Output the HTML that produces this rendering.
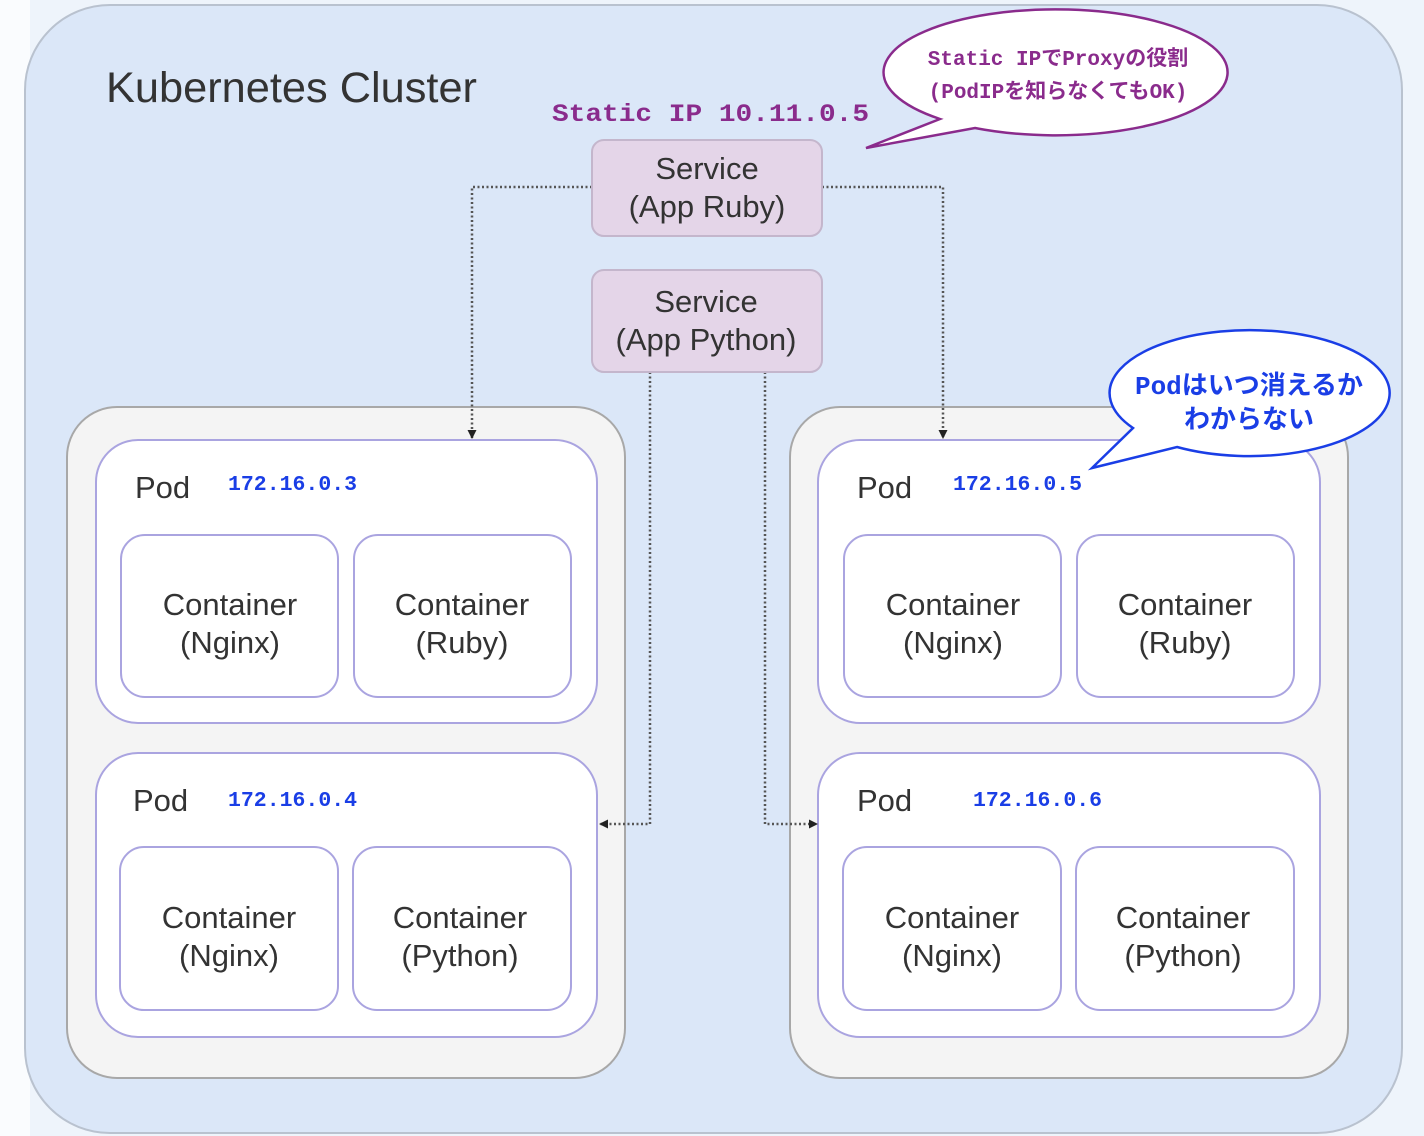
<!DOCTYPE html>
<html><head><meta charset="utf-8"><style>
html,body{margin:0;padding:0;background:#eef4fb;}
svg{display:block}
.s{font-family:"Liberation Sans","Noto Sans CJK JP",sans-serif;fill:#333;}
.m{font-family:"Liberation Mono","Noto Sans CJK JP",monospace;font-weight:bold;}
</style></head><body>
<svg width="1424" height="1136" viewBox="0 0 1424 1136" xmlns="http://www.w3.org/2000/svg">
<defs>
<marker id="a" markerWidth="9" markerHeight="9" refX="8" refY="4.5" orient="auto" markerUnits="userSpaceOnUse"><path d="M0,0 L9,4.5 L0,9 z" fill="#222"/></marker>
</defs>
<rect width="1424" height="1136" fill="#eef4fb"/>
<rect x="0" y="0" width="30" height="1136" fill="#fafcfe"/>
<rect x="25" y="5" width="1377" height="1128" rx="85" fill="#dbe7f8" stroke="#b9c2cf" stroke-width="2"/>
<text x="106" y="102" class="s" font-size="43" fill="#333" textLength="371" lengthAdjust="spacingAndGlyphs">Kubernetes Cluster</text>

<rect x="67" y="407" width="558" height="671" rx="50" fill="#f4f4f4" stroke="#a8a8a8" stroke-width="2"/>
<rect x="790" y="407" width="558" height="671" rx="50" fill="#f4f4f4" stroke="#a8a8a8" stroke-width="2"/>

<g fill="#fff" stroke="#aaa4e0" stroke-width="2">
<rect x="96" y="440" width="501" height="283" rx="42"/>
<rect x="96" y="753" width="501" height="284" rx="42"/>
<rect x="818" y="440" width="502" height="283" rx="42"/>
<rect x="818" y="753" width="502" height="284" rx="42"/>
<rect x="121" y="535" width="217" height="162" rx="24"/>
<rect x="354" y="535" width="217" height="162" rx="24"/>
<rect x="120" y="847" width="218" height="163" rx="24"/>
<rect x="353" y="847" width="218" height="163" rx="24"/>
<rect x="844" y="535" width="217" height="162" rx="24"/>
<rect x="1077" y="535" width="217" height="162" rx="24"/>
<rect x="843" y="847" width="218" height="163" rx="24"/>
<rect x="1076" y="847" width="218" height="163" rx="24"/>
</g>

<g class="s" font-size="31" fill="#333">
<text x="135" y="498">Pod</text>
<text x="133" y="811">Pod</text>
<text x="857" y="498">Pod</text>
<text x="857" y="811">Pod</text>
</g>
<g class="m" font-size="21.5" fill="#1a3ee6">
<text x="228" y="490">172.16.0.3</text>
<text x="228" y="806">172.16.0.4</text>
<text x="953" y="490">172.16.0.5</text>
<text x="973" y="806">172.16.0.6</text>
</g>

<g class="s" font-size="31" fill="#333" text-anchor="middle">
<text x="230" y="615">Container</text><text x="230" y="653">(Nginx)</text>
<text x="462" y="615">Container</text><text x="462" y="653">(Ruby)</text>
<text x="229" y="928">Container</text><text x="229" y="966">(Nginx)</text>
<text x="460" y="928">Container</text><text x="460" y="966">(Python)</text>
<text x="953" y="615">Container</text><text x="953" y="653">(Nginx)</text>
<text x="1185" y="615">Container</text><text x="1185" y="653">(Ruby)</text>
<text x="952" y="928">Container</text><text x="952" y="966">(Nginx)</text>
<text x="1183" y="928">Container</text><text x="1183" y="966">(Python)</text>
</g>

<g fill="none" stroke="#555" stroke-width="2.5" stroke-dasharray="2,2.5">
<path d="M592,187 H472 V438" marker-end="url(#a)"/>
<path d="M822,187 H943 V438" marker-end="url(#a)"/>
<path d="M650,372 V824 H600" marker-end="url(#a)"/>
<path d="M765,372 V824 H817" marker-end="url(#a)"/>
</g>

<rect x="592" y="140" width="230" height="96" rx="12" fill="#e4d5e8" stroke="#c4b6cc" stroke-width="2"/>
<rect x="592" y="270" width="230" height="102" rx="12" fill="#e4d5e8" stroke="#c4b6cc" stroke-width="2"/>
<g class="s" font-size="31" fill="#222" text-anchor="middle">
<text x="707" y="179">Service</text><text x="707" y="217">(App Ruby)</text>
<text x="706" y="312">Service</text><text x="706" y="350">(App Python)</text>
</g>

<text x="552" y="121" class="m" font-size="25" fill="#8a2b8c" textLength="317" lengthAdjust="spacingAndGlyphs">Static IP 10.11.0.5</text>

<path d="M940,119 A172,63 0 1 1 975,128 L866,148 Z" fill="#fff" stroke="#8a2b8c" stroke-width="2.5"/>
<g class="m" font-size="21" fill="#8a2b8c" text-anchor="middle">
<text x="1058" y="65">Static IP<tspan font-family="Noto Sans CJK JP">で</tspan>Proxy<tspan font-family="Noto Sans CJK JP">の役割</tspan></text>
<text x="1058" y="98">(PodIP<tspan font-family="Noto Sans CJK JP">を知らなくても</tspan>OK)</text>
</g>

<path d="M1133,428 A140,63 0 1 1 1177,447 L1092,468 Z" fill="#fff" stroke="#1a3ee6" stroke-width="2.5"/>
<g font-size="26" font-weight="bold" fill="#1a3ee6" text-anchor="middle" font-family="'Liberation Mono','Noto Sans CJK JP',sans-serif">
<text x="1249" y="394">Pod<tspan font-family="Noto Sans CJK JP">はいつ消えるか</tspan></text>
<text x="1249" y="428" font-family="Noto Sans CJK JP">わからない</text>
</g>
</svg>
</body></html>
